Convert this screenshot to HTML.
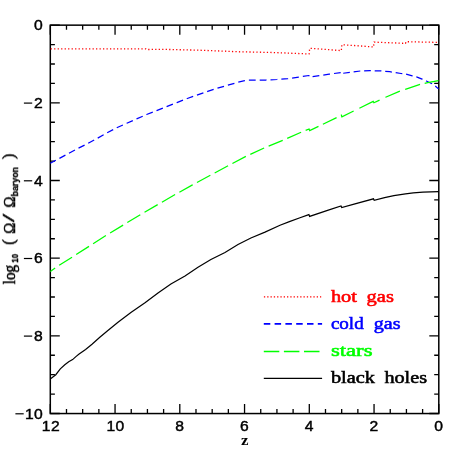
<!DOCTYPE html>
<html><head><meta charset="utf-8"><style>
html,body{margin:0;padding:0;background:#fff;}
svg{display:block}
text{font-family:"Liberation Sans",sans-serif;}
.tk text{font-size:14px;fill:#000;stroke:#000;stroke-width:0.42px;letter-spacing:0.4px}
.yl text{font-family:"Liberation Serif",serif;font-size:16px;font-weight:normal;stroke:#000;stroke-width:0.55px}
.yl text.sub{font-family:"Liberation Sans",sans-serif;font-size:9px;font-weight:bold;stroke-width:0.35px}
.lg text{font-family:"Liberation Serif",serif;font-size:17px;font-weight:normal;stroke-width:0.55px}
</style></head><body>
<svg width="463" height="463" viewBox="0 0 463 463">
<rect width="463" height="463" fill="#fff"/>
<rect x="50.3" y="25.15" width="388.5" height="388.4" fill="none" stroke="#000" stroke-width="1.5"/>
<path d="M50.30,25.15 v9.5 M50.30,413.5 v-9.5 M66.49,25.15 v4.6 M66.49,413.5 v-4.6 M82.67,25.15 v4.6 M82.67,413.5 v-4.6 M98.86,25.15 v4.6 M98.86,413.5 v-4.6 M115.05,25.15 v9.5 M115.05,413.5 v-9.5 M131.24,25.15 v4.6 M131.24,413.5 v-4.6 M147.43,25.15 v4.6 M147.43,413.5 v-4.6 M163.61,25.15 v4.6 M163.61,413.5 v-4.6 M179.80,25.15 v9.5 M179.80,413.5 v-9.5 M195.99,25.15 v4.6 M195.99,413.5 v-4.6 M212.18,25.15 v4.6 M212.18,413.5 v-4.6 M228.36,25.15 v4.6 M228.36,413.5 v-4.6 M244.55,25.15 v9.5 M244.55,413.5 v-9.5 M260.74,25.15 v4.6 M260.74,413.5 v-4.6 M276.93,25.15 v4.6 M276.93,413.5 v-4.6 M293.11,25.15 v4.6 M293.11,413.5 v-4.6 M309.30,25.15 v9.5 M309.30,413.5 v-9.5 M325.49,25.15 v4.6 M325.49,413.5 v-4.6 M341.68,25.15 v4.6 M341.68,413.5 v-4.6 M357.86,25.15 v4.6 M357.86,413.5 v-4.6 M374.05,25.15 v9.5 M374.05,413.5 v-9.5 M390.24,25.15 v4.6 M390.24,413.5 v-4.6 M406.43,25.15 v4.6 M406.43,413.5 v-4.6 M422.61,25.15 v4.6 M422.61,413.5 v-4.6 M438.80,25.15 v9.5 M438.80,413.5 v-9.5 M50.3,25.15 h9.5 M438.8,25.15 h-9.5 M50.3,44.57 h4.6 M438.8,44.57 h-4.6 M50.3,63.98 h4.6 M438.8,63.98 h-4.6 M50.3,83.40 h4.6 M438.8,83.40 h-4.6 M50.3,102.82 h9.5 M438.8,102.82 h-9.5 M50.3,122.24 h4.6 M438.8,122.24 h-4.6 M50.3,141.66 h4.6 M438.8,141.66 h-4.6 M50.3,161.07 h4.6 M438.8,161.07 h-4.6 M50.3,180.49 h9.5 M438.8,180.49 h-9.5 M50.3,199.91 h4.6 M438.8,199.91 h-4.6 M50.3,219.33 h4.6 M438.8,219.33 h-4.6 M50.3,238.74 h4.6 M438.8,238.74 h-4.6 M50.3,258.16 h9.5 M438.8,258.16 h-9.5 M50.3,277.58 h4.6 M438.8,277.58 h-4.6 M50.3,297.00 h4.6 M438.8,297.00 h-4.6 M50.3,316.41 h4.6 M438.8,316.41 h-4.6 M50.3,335.83 h9.5 M438.8,335.83 h-9.5 M50.3,355.25 h4.6 M438.8,355.25 h-4.6 M50.3,374.66 h4.6 M438.8,374.66 h-4.6 M50.3,394.08 h4.6 M438.8,394.08 h-4.6 M50.3,413.50 h9.5 M438.8,413.50 h-9.5" stroke="#000" stroke-width="1.3" fill="none"/>
<path d="M50.3,48.9 L146.0,48.9 L147.0,49.5 L165.0,49.4 L199.7,50.2 L240.0,51.8 L269.5,52.4 L305.8,53.8 L309.1,53.9 L309.7,48.3 L341.3,50.6 L341.9,44.7 L360.0,45.9 L373.5,47.0 L374.1,42.1 L405.5,43.4 L406.1,41.7 L438.5,42.4" stroke="#f00" stroke-width="1.3" fill="none" stroke-dasharray="1.25 2.24" stroke-dashoffset="3.12"/>
<path d="M50.3,163.3 L59.0,158.6 L68.7,153.4 L78.4,148.2 L88.2,143.3 L97.2,138.4 L107.0,132.9 L117.3,127.5 L126.8,123.2 L136.6,118.9 L146.6,114.5 L156.6,110.7 L166.5,106.7 L176.9,102.6 L187.3,98.5 L197.6,94.9 L207.7,91.4 L217.5,88.2 L227.9,85.2 L237.8,82.3 L244.7,80.6 L248.7,80.0 L265.9,80.0 L277.0,79.5 L287.9,78.6 L298.7,77.1 L309.0,75.5" stroke="#00f" stroke-width="1.25" fill="none" stroke-dasharray="6.8 4.03" stroke-dashoffset="0.46"/>
<path d="M309.0,75.5 L309.6,77.2 L319.4,75.7 L329.2,74.2 L341.5,72.4" stroke="#00f" stroke-width="1.25" fill="none" stroke-dasharray="6.8 4.02" stroke-dashoffset="5.99"/>
<path d="M341.5,72.4 L342.1,73.4 L353.5,71.8 L360.3,71.0 L370.0,70.7 L380.7,70.9 L389.8,71.7 L394.7,72.5 L401.0,73.5 L406.0,74.2 L412.3,75.8 L416.5,76.8 L422.1,79.1 L426.3,81.0 L432.0,83.8 L435.5,86.2 L438.5,88.9" stroke="#00f" stroke-width="1.25" fill="none" stroke-dasharray="6.7 3.85" stroke-dashoffset="8.28"/>
<path d="M50.3,271.5 L59.2,265.2 L72.2,257.1 L89.1,246.3 L105.9,235.5 L124.0,224.6 L140.6,214.5 L157.9,204.5 L175.4,194.4 L192.5,184.9 L210.6,175.1 L228.4,165.6 L246.2,156.2 L265.0,147.6 L283.2,140.2 L301.8,132.0 L309.1,129.0 L309.7,130.6 L319.4,125.9 L337.3,117.3 L341.3,115.2 L341.9,116.8 L354.0,110.9" stroke="#0f0" stroke-width="1.25" fill="none" stroke-dasharray="15.2 4.9" stroke-dashoffset="9.25"/>
<path d="M354.0,110.9 L373.2,101.4 L373.9,102.7 L385.6,97.3 L400.4,90.9 L405.3,89.4 L420.0,84.3 L427.8,82.6 L438.5,80.6" stroke="#0f0" stroke-width="1.25" fill="none" stroke-dasharray="0 6.0 23.15 6.5 15.7 5.55 15.7 4.78 30"/>
<path d="M50.3,379.0 L55.8,374.7 L60.3,368.9 L64.8,364.7 L68.7,361.7 L72.6,359.6 L75.9,356.6 L79.1,354.0 L85.6,349.4 L92.0,344.2 L99.8,337.3 L107.6,330.8 L118.0,322.3 L130.9,312.4 L145.0,302.8 L158.0,293.0 L170.9,283.9 L185.0,275.9 L198.0,267.3 L210.9,259.5 L225.0,252.5 L238.0,244.5 L250.9,238.0 L265.0,232.1 L280.0,225.3 L289.4,221.6 L300.0,217.7 L308.9,214.6 L309.6,216.4 L328.3,210.1 L341.0,205.9 L341.7,207.6 L355.0,203.9 L373.5,198.8 L374.2,200.4 L384.6,197.7 L393.9,195.7 L405.5,193.8 L413.3,192.9 L423.0,192.2 L438.5,191.6" stroke="#000" stroke-width="1.2" fill="none"/>
<g class="tk" style="will-change:transform"><text transform="translate(50.9,431) scale(1.12,1)" text-anchor="middle">12</text><text transform="translate(115.6,431) scale(1.12,1)" text-anchor="middle">10</text><text transform="translate(179.8,431) scale(1.12,1)" text-anchor="middle">8</text><text transform="translate(244.6,431) scale(1.12,1)" text-anchor="middle">6</text><text transform="translate(309.3,431) scale(1.12,1)" text-anchor="middle">4</text><text transform="translate(374.1,431) scale(1.12,1)" text-anchor="middle">2</text><text transform="translate(438.8,431) scale(1.12,1)" text-anchor="middle">0</text><text transform="translate(43.3,30.2) scale(1.12,1)" text-anchor="end">0</text><text transform="translate(43.3,107.9) scale(1.12,1)" text-anchor="end">2</text><path d="M23.9,103.1 h8.3" stroke="#000" stroke-width="1.2"/><text transform="translate(43.3,185.5) scale(1.12,1)" text-anchor="end">4</text><path d="M23.9,180.8 h8.3" stroke="#000" stroke-width="1.2"/><text transform="translate(43.3,263.2) scale(1.12,1)" text-anchor="end">6</text><path d="M23.9,258.5 h8.3" stroke="#000" stroke-width="1.2"/><text transform="translate(43.3,340.9) scale(1.12,1)" text-anchor="end">8</text><path d="M23.9,336.1 h8.3" stroke="#000" stroke-width="1.2"/><text transform="translate(43.3,418.6) scale(1.12,1)" text-anchor="end">10</text><path d="M15.4,413.8 h8.3" stroke="#000" stroke-width="1.2"/><text x="240.9" y="444.7" textLength="7.5" lengthAdjust="spacingAndGlyphs" style="font-family:'Liberation Serif',serif;font-size:15px;font-weight:bold;stroke:none;letter-spacing:0">z</text></g>
<g class="lg" style="will-change:transform">
<path d="M263.8,296.8 H321.2" stroke="#f00" stroke-width="1.3" stroke-dasharray="1.3 2.0" stroke-dashoffset="-0.1"/>
<path d="M263.8,323.8 H322.1" stroke="#00f" stroke-width="1.7" stroke-dasharray="6.5 4.3"/>
<path d="M263.8,351.5 H322.1" stroke="#0f0" stroke-width="1.5" stroke-dasharray="15.5 4.6"/>
<path d="M263.8,378.4 H322.1" stroke="#000" stroke-width="1.3"/>
<text x="330.9" y="301.5" fill="#f00" stroke="#f00" textLength="26" lengthAdjust="spacingAndGlyphs">hot</text>
<text x="366.6" y="301.5" fill="#f00" stroke="#f00" textLength="27.3" lengthAdjust="spacingAndGlyphs">gas</text>
<text x="330.9" y="328.7" fill="#00f" stroke="#00f" textLength="32.8" lengthAdjust="spacingAndGlyphs">cold</text>
<text x="373.7" y="328.7" fill="#00f" stroke="#00f" textLength="26.8" lengthAdjust="spacingAndGlyphs">gas</text>
<text x="330.9" y="355.8" fill="#0f0" stroke="#0f0" textLength="41.6" lengthAdjust="spacingAndGlyphs">stars</text>
<text x="330.9" y="382.7" fill="#000" stroke="#000" textLength="44" lengthAdjust="spacingAndGlyphs">black</text>
<text x="384.4" y="382.7" fill="#000" stroke="#000" textLength="42.7" lengthAdjust="spacingAndGlyphs">holes</text>
</g>
<g class="yl" style="will-change:transform" transform="translate(15,284.3) rotate(-90)">
<text x="0" y="0" textLength="19.4" lengthAdjust="spacingAndGlyphs">log</text>
<text x="21.6" y="2.8" textLength="8.7" lengthAdjust="spacingAndGlyphs" class="sub">10</text>
<text x="39.5" y="-1.5">(</text>
<text x="50.6" y="0" textLength="11" lengthAdjust="spacingAndGlyphs">Ω</text>
<text x="62.3" y="-1" textLength="8" lengthAdjust="spacingAndGlyphs">/</text>
<text x="76.7" y="0" textLength="11" lengthAdjust="spacingAndGlyphs">Ω</text>
<text x="87.8" y="3" textLength="29.4" lengthAdjust="spacingAndGlyphs" class="sub">baryon</text>
<text x="125.2" y="-1.5">)</text>
</g>
</svg>
</body></html>
